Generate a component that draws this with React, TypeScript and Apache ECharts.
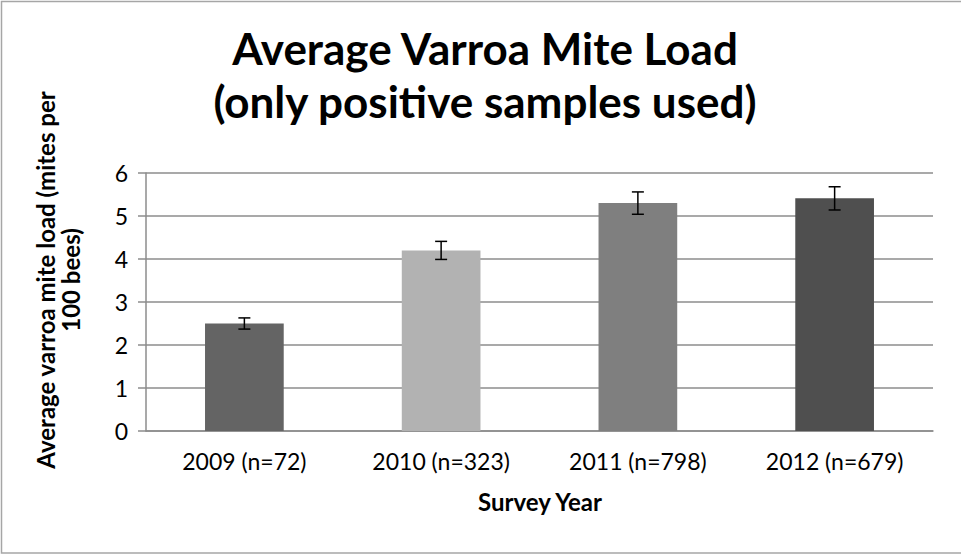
import React, { useEffect, useRef } from "react";
import * as echarts from "echarts";

const categories = ["2009 (n=72)", "2010 (n=323)", "2011 (n=798)", "2012 (n=679)"];
const means = [2.5, 4.2, 5.3, 5.41];
const errors = [0.13, 0.21, 0.26, 0.27];
const barColors = ["#646464", "#b2b2b2", "#7f7f7f", "#4f4f4f"];
const yTicks = [0, 1, 2, 3, 4, 5, 6];

const titleText = "Average Varroa Mite Load\n(only positive samples used)";
const yAxisTitle = "Average varroa mite load (mites per\n100 bees)";
const xAxisTitle = "Survey Year";

export default function App() {
  const ref = useRef<HTMLDivElement>(null);
  useEffect(() => {
    if (!ref.current) return;
    const chart = echarts.init(ref.current, undefined, { renderer: "svg" });
    const font = "Lato";
    chart.setOption({
      animation: false,
      backgroundColor: "#ffffff",
      grid: { left: 146, right: 28, top: 173, bottom: 123, containLabel: false },
      xAxis: {
        type: "category",
        data: categories,
        axisLine: { show: true, lineStyle: { color: "#8c8c8c", width: 1.5 } },
        axisTick: { show: false },
        axisLabel: { margin: 18, fontFamily: font, fontSize: 23, color: "#000" },
      },
      yAxis: {
        type: "value",
        min: yTicks[0],
        max: yTicks[yTicks.length - 1],
        interval: 1,
        axisLine: { show: true, lineStyle: { color: "#8c8c8c", width: 1.5 } },
        axisTick: { show: true, length: 8, lineStyle: { color: "#8c8c8c", width: 1.5 } },
        splitLine: { show: true, lineStyle: { color: "#8c8c8c", width: 1.5 } },
        axisLabel: { margin: 18, fontFamily: font, fontSize: 23, color: "#000" },
      },
      series: [
        {
          type: "bar",
          barCategoryGap: "60%",
          data: means.map((v, i) => ({ value: v, itemStyle: { color: barColors[i] } })),
          z: 2,
        },
        {
          type: "custom",
          z: 5,
          data: means.map((v, i) => [i, v, errors[i]]),
          encode: { x: 0, y: 1 },
          renderItem: (params: any, api: any) => {
            const idx = api.value(0);
            const m = api.value(1);
            const e = api.value(2);
            const top = api.coord([idx, m + e]);
            const bot = api.coord([idx, m - e]);
            const cx = top[0];
            const hw = 6;
            const st = { stroke: "#000", lineWidth: 1.5 };
            return {
              type: "group",
              children: [
                { type: "line", shape: { x1: cx, y1: top[1], x2: cx, y2: bot[1] }, style: st },
                { type: "line", shape: { x1: cx - hw, y1: top[1], x2: cx + hw, y2: top[1] }, style: st },
                { type: "line", shape: { x1: cx - hw, y1: bot[1], x2: cx + hw, y2: bot[1] }, style: st },
              ],
            };
          },
        },
      ],
      graphic: [
        {
          type: "rect",
          shape: { x: 1.5, y: 1.5, width: 966, height: 551.5 },
          style: { fill: "none", stroke: "#a6a6a6", lineWidth: 1.5 },
          silent: true,
        },
        {
          type: "text",
          x: 485,
          y: 21,
          style: {
            text: titleText,
            font: "bold 44px Lato",
            fill: "#000",
            align: "center",
            textAlign: "center",
            verticalAlign: "top",
            textVerticalAlign: "top",
            lineHeight: 53,
          },
        },
        {
          type: "text",
          x: 58,
          y: 280,
          rotation: Math.PI / 2,
          style: {
            text: yAxisTitle,
            font: "bold 24px Lato",
            fill: "#000",
            align: "center",
            textAlign: "center",
            verticalAlign: "middle",
            textVerticalAlign: "middle",
            lineHeight: 25,
          },
        },
        {
          type: "text",
          x: 540,
          y: 501,
          style: {
            text: xAxisTitle,
            font: "bold 24px Lato",
            fill: "#000",
            align: "center",
            textAlign: "center",
            verticalAlign: "middle",
            textVerticalAlign: "middle",
          },
        },
      ],
    });
    return () => chart.dispose();
  }, []);
  return (
    <div
      ref={ref}
      style={{ position: "absolute", left: 0, top: 0, width: 961, height: 554, background: "#fff" }}
    />
  );
}
